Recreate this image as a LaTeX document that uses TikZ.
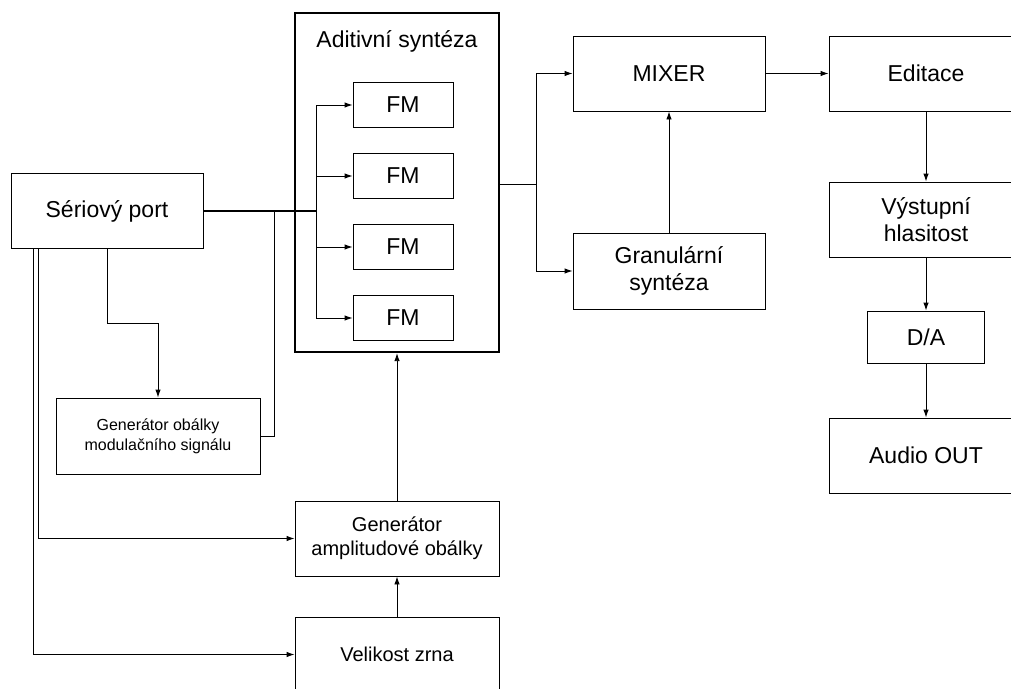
\documentclass[tikz,border=0pt]{standalone}
\usepackage{fontspec}
\setmainfont{Liberation Sans}
\usetikzlibrary{arrows.meta}

\tikzset{
  box/.style={draw, line width=0.9pt, rectangle, align=center, inner sep=0pt,
              font=\fontsize{23}{27}\selectfont},
  smallbox/.style={box, font=\fontsize{16}{20}\selectfont},
  midbox/.style={box, font=\fontsize{20}{24}\selectfont},
  groupbox/.style={draw, line width=2.3pt, rectangle, inner sep=0pt},
  fmbox/.style={box, minimum width=100pt, minimum height=45pt},
  wire/.style={line width=0.9pt},
  mainwire/.style={line width=1.6pt},
  arr/.style={wire, -{Latex[length=8pt,width=5.5pt]}}
}

\begin{document}
\begin{tikzpicture}[x=1pt, y=-1pt]
  \useasboundingbox (0,0) rectangle (1011,688);
  \clip (0,0) rectangle (1011,688);

  % input side
  \node[box, minimum width=192pt, minimum height=75pt] (sp) at (107,211) {Sériový port};
  \node[smallbox, minimum width=204pt, minimum height=76pt] (gmod) at (158,436) {Generátor obálky\\modulačního signálu};
  \node[midbox, minimum width=204pt, minimum height=75pt] (gamp) at (397,538.5) {Generátor\\amplitudové obálky};
  \node[midbox, minimum width=204pt, minimum height=75pt] (vel) at (397,654.5) {Velikost zrna};

  % additive synthesis group with four FM voices
  \node[groupbox, minimum width=204pt, minimum height=339pt] (add) at (397,182.5) {};
  \node[box, draw=none] (addt) at (397,41) {Aditivní syntéza};
  \node[fmbox] (fm1) at (403,105) {FM};
  \node[fmbox] (fm2) at (403,176) {FM};
  \node[fmbox] (fm3) at (403,247) {FM};
  \node[fmbox] (fm4) at (403,318) {FM};

  % mixing and output chain
  \node[box, minimum width=192pt, minimum height=75pt] (mix) at (669,73.5) {MIXER};
  \node[box, minimum width=192pt, minimum height=76pt] (gran) at (669,271) {Granulární\\syntéza};
  \node[box, minimum width=194pt, minimum height=75pt] (edit) at (926,73.5) {Editace};
  \node[box, minimum width=194pt, minimum height=75pt] (vys) at (926,219.5) {Výstupní\\hlasitost};
  \node[box, minimum width=117pt, minimum height=52pt] (da) at (926,337) {D/A};
  \node[box, minimum width=194pt, minimum height=75pt] (aout) at (926,455.5) {Audio OUT};

  % junction points
  \coordinate (fmbus) at (316,211);
  \coordinate (modtap) at (274,211);
  \coordinate (outbus) at (536,184);

  % serial port to the FM voices
  \draw[mainwire] (sp.east) -- (fmbus);
  \draw[wire] (fm1.west -| fmbus) -- (fm4.west -| fmbus);
  \foreach \f in {fm1,fm2,fm3,fm4}
    \draw[arr] (\f.west -| fmbus) -- (\f.west);

  % modulation envelope generator
  \draw[wire] (gmod.east) -| (modtap);
  \draw[arr] (sp.south -| 107,0) |- (158,323) -- (gmod.north);

  % amplitude envelope and grain size
  \draw[arr] (sp.south -| 38,0) |- (gamp.west);
  \draw[arr] (sp.south -| 33,0) |- (vel.west);
  \draw[arr] (vel.north) -- (gamp.south);
  \draw[arr] (gamp.north) -- (add.south);

  % additive output to mixer and granular synthesis
  \draw[wire] (add.east |- outbus) -- (outbus);
  \draw[wire] (mix.west -| outbus) -- (gran.west -| outbus);
  \draw[arr] (mix.west -| outbus) -- (mix.west);
  \draw[arr] (gran.west -| outbus) -- (gran.west);
  \draw[arr] (gran.north) -- (mix.south);

  % output chain
  \draw[arr] (mix.east) -- (edit.west);
  \draw[arr] (edit.south) -- (vys.north);
  \draw[arr] (vys.south) -- (da.north);
  \draw[arr] (da.south) -- (aout.north);
\end{tikzpicture}
\end{document}
